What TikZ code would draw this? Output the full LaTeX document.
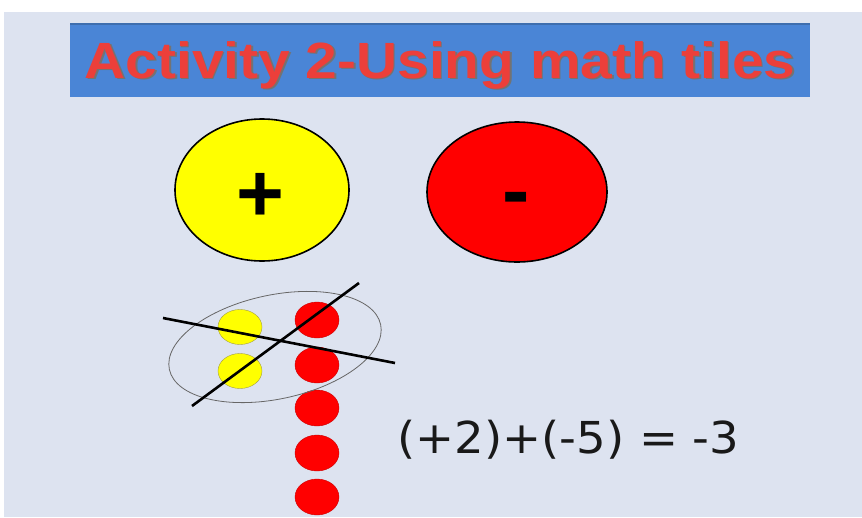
\documentclass[tikz,border=0pt]{standalone}
\usepackage{fontspec}
\setmainfont{Liberation Sans}
\newfontfamily\eqfont{DejaVu Sans}
\usetikzlibrary{shapes.geometric}
\definecolor{slidebg}{HTML}{DDE3F0}
\definecolor{titlebar}{HTML}{4A85D6}
\definecolor{titleedge}{HTML}{3E6EAE}
\definecolor{titlered}{HTML}{EC3F3A}
\definecolor{tilered}{HTML}{FF0000}
\definecolor{tileyellow}{HTML}{FFFF00}
\tikzset{
  bigtile/.style={ellipse, draw=black, line width=1.6pt, minimum width=174pt, minimum height=142pt, inner sep=0pt},
  sign/.style={font=\bfseries\fontsize{82}{88}\selectfont, inner sep=0pt, anchor=base},
  smallred/.style={ellipse, fill=tilered, draw=red!80!black, line width=0.4pt, minimum width=44pt, minimum height=36pt, inner sep=0pt},
  smallyellow/.style={ellipse, fill=tileyellow, draw=yellow!60!black, line width=0.4pt, minimum width=44pt, minimum height=35pt, inner sep=0pt},
  crossline/.style={line width=2.6pt, black},
  titletext/.style={font=\bfseries\fontsize{49}{54}\selectfont, inner sep=0pt},
}
\begin{document}
\begin{tikzpicture}[x=1pt,y=-1pt]
\useasboundingbox (0,0) rectangle (862,517);
\fill[white] (0,0) rectangle (862,517);
\fill[slidebg] (4,12) rectangle (862,517);
% title
\node[fill=titlebar, minimum width=740pt, minimum height=73pt, inner sep=0pt, anchor=north west] (titlebox) at (70,24) {};
\draw[titleedge, line width=1.2pt] (titlebox.north west) -- (titlebox.north east);
\node[titletext, text=black!55] at ([xshift=1.5pt,yshift=-5.8pt]titlebox.center) {\scalebox{1.16}[1.04]{Activity 2-Using math tiles}};
\node[titletext, text=titlered] (title) at ([yshift=-5pt]titlebox.center) {\scalebox{1.16}[1.04]{Activity 2-Using math tiles}};
% big tiles
\node[bigtile, fill=tileyellow] (plus) at (262,190) {};
\node[sign] (plussign) at (260,221) {+};
\node[bigtile, fill=tilered, minimum width=180pt, minimum height=140pt] (minus) at (517,192) {};
\node[sign] (minussign) at (516,218) {-};
% small tiles
\node[smallyellow] (y1) at (240,327) {};
\node[smallyellow] (y2) at (240,371) {};
\node[smallred] (r1) at (317,320) {};
\node[smallred] (r2) at (317,365) {};
\node[smallred] (r3) at (317,408) {};
\node[smallred] (r4) at (317,453) {};
\node[smallred] (r5) at (317,497) {};
% grouping ellipse
\draw[gray!80!black, line width=0.8pt, rotate around={12:(275,347)}] (275,347) ellipse (108pt and 52pt);
% crossing lines
\coordinate (l1a) at (163,318);
\coordinate (l1b) at (395,363);
\coordinate (l2a) at (192,406);
\coordinate (l2b) at (359,283);
\draw[crossline] (l1a) -- (l1b);
\draw[crossline] (l2a) -- (l2b);
% equation
\node[anchor=base west, font=\eqfont\fontsize{44}{50}\selectfont, inner sep=0pt, text=black!90] (eq) at (397,453) {\scalebox{1.06}[1]{(+2)+(-5) = -3}};
\end{tikzpicture}
\end{document}
